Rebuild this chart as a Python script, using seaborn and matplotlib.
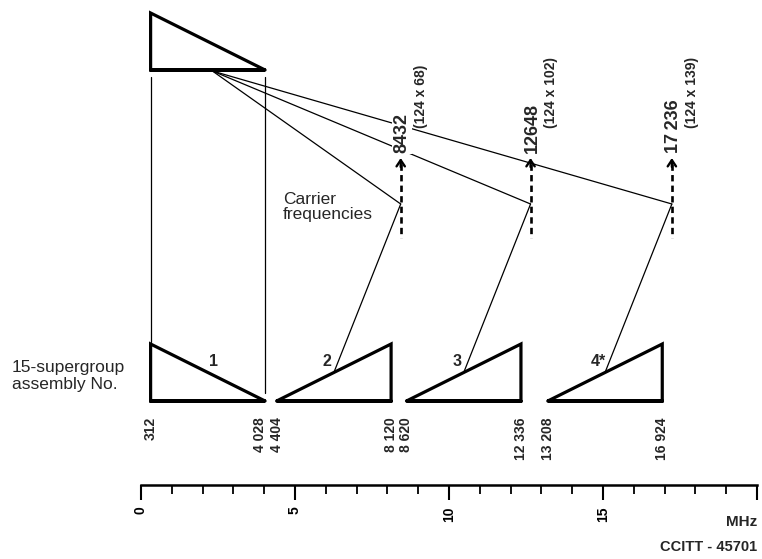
import numpy as np
import pandas as pd
import seaborn as sns
import matplotlib.pyplot as plt
from matplotlib.ticker import FixedLocator

# 15-supergroup assemblies, band edges in kHz
assembly_no = ["1", "2", "3", "4*"]
band_low = [312, 4404, 8620, 13208]
band_high = [4028, 8120, 12336, 16924]
erect = [True, False, False, False]

# basic assembly (top)
base_low, base_high = 312, 4028

# carrier frequencies (kHz) = multiples of 124 kHz
carriers = [8432, 12648, 17236]
carrier_labels = ["8432", "12648", "17\u2009236"]
carrier_factors = ["(124 x 68)", "(124 x 102)", "(124 x 139)"]

# frequency ruler (MHz)
ruler_major = [0, 5, 10, 15, 20]
ruler_major_labels = ["0", "5", "10", "15", ""]
ruler_minor = list(range(0, 21))

sns.set_style("white")
plt.rcParams['font.family'] = ['Liberation Sans', 'DejaVu Sans']

# layout: x in MHz mapped to pixels, y in pixels from the top
PX0 = 141
PX_PER_MHZ = 30.8
W, H = 762, 559
TOP_BASE = 70
BAND_BASE = 401
TRI_H = 57
GUIDE_TOP = 77
JUNC_Y = 204
DASH_BOTTOM = 238
ARROW_TIP = 158
FREQ_TOP = 417
RULER_Y = 485

def mhz(v):
    return np.asarray(v, dtype=float) / 1000.0

def px(n):
    return n / PX_PER_MHZ

fig = plt.figure(figsize=(W / 100, H / 100), dpi=100)
ax = fig.add_axes([0, 0, 1, 1])

# triangle outlines (path goes round once and repeats the first edge so every corner is joined)
rows = []
def add_tri(name, lo, hi, base, up_left):
    if up_left:
        pts = [(lo, base), (hi, base), (lo, base - TRI_H), (lo, base), (hi, base)]
    else:
        pts = [(hi, base), (lo, base), (hi, base - TRI_H), (hi, base), (lo, base)]
    for i, (x, y) in enumerate(pts):
        rows.append({"shape": name, "order": i, "x": x, "y": y})

add_tri("base", mhz(base_low), mhz(base_high), TOP_BASE, True)
for no, lo, hi, er in zip(assembly_no, mhz(band_low), mhz(band_high), erect):
    add_tri(no, lo, hi, BAND_BASE, er)
tri = pd.DataFrame(rows)

sns.lineplot(data=tri, x="x", y="y", units="shape", estimator=None, sort=False,
             color="black", linewidth=2.3, ax=ax, legend=False)
for ln in ax.lines:
    ln.set_solid_joinstyle("miter")

# thin connecting lines
segs = []
def add_seg(name, p0, p1):
    segs.append({"seg": name, "x": p0[0], "y": p0[1]})
    segs.append({"seg": name, "x": p1[0], "y": p1[1]})

add_seg("g0", (mhz(base_low), GUIDE_TOP), (mhz(base_low), BAND_BASE - TRI_H - 2))
add_seg("g1", (mhz(base_high), GUIDE_TOP), (mhz(base_high), BAND_BASE - 8))
origin = (mhz(base_low) + 0.54 * (mhz(base_high) - mhz(base_low)), TOP_BASE + 1)
for i, c in enumerate(mhz(carriers)):
    add_seg(f"f{i}", origin, (c, JUNC_Y))
    lo, hi = mhz(band_low[i + 1]), mhz(band_high[i + 1])
    add_seg(f"d{i}", (c, JUNC_Y), ((lo + hi) / 2, BAND_BASE - TRI_H / 2))
thin = pd.DataFrame(segs)
sns.lineplot(data=thin, x="x", y="y", units="seg", estimator=None, sort=False,
             color="black", linewidth=0.9, ax=ax, legend=False)

# dashed carrier lines with arrow heads
ax.vlines(mhz(carriers), ARROW_TIP + 6, DASH_BOTTOM, colors="black",
          linewidth=1.9, linestyles=(0, (2.4, 1.6)))
for c in mhz(carriers):
    ax.annotate("", xy=(c, ARROW_TIP), xytext=(c, ARROW_TIP + 9),
                arrowprops=dict(arrowstyle="->,head_length=0.45,head_width=0.3",
                                lw=1.7, color="black", shrinkA=0, shrinkB=0))

for c, lab, fac in zip(mhz(carriers), carrier_labels, carrier_factors):
    ax.text(c + px(1.5), ARROW_TIP - 5, lab, rotation=90, ha="center", va="bottom",
            fontsize=13, fontweight="bold", zorder=5,
            bbox=dict(facecolor="white", edgecolor="none", pad=1))
    ax.text(c + px(20), 128, fac, rotation=90, ha="center", va="bottom",
            fontsize=10, fontweight="bold", zorder=5)

ax.text(px(283 - PX0), 207, "Carrier\nfrequencies", ha="left", va="center",
        fontsize=12.5, linespacing=1.0)
ax.text(px(12 - PX0), 376, "15-supergroup\nassembly No.", ha="left", va="center",
        fontsize=12.5, linespacing=1.1)

# assembly numbers
for no, lo, hi, er in zip(assembly_no, mhz(band_low), mhz(band_high), erect):
    frac = 0.55 if er else 0.44
    ax.text(lo + frac * (hi - lo), 362, no, ha="center", va="center",
            fontsize=11.5, fontweight="bold")

# band edge frequencies
edges = sorted(band_low + band_high)
for k, e in enumerate(edges):
    nudge = 0.0
    if k + 1 < len(edges) and edges[k + 1] - e < 450:
        nudge = -px(5)
    ax.text(mhz(e) + nudge, FREQ_TOP, f"{e:,}".replace(",", " "), rotation=90,
            ha="center", va="top", fontsize=10, fontweight="bold")

ax.set_xlim(px(-PX0), px(W - PX0))
ax.set_ylim(H, 0)
ax.axis("off")

# frequency ruler
ax_r = fig.add_axes([0, (H - RULER_Y) / H, 1, 0.05])
ax_r.patch.set_alpha(0)
ax_r.set_xlim(px(-PX0), px(W - PX0))
ax_r.set_yticks([])
for s in ["top", "left", "right"]:
    ax_r.spines[s].set_visible(False)
ax_r.spines["bottom"].set_bounds(0, 20)
ax_r.spines["bottom"].set_linewidth(1.8)
ax_r.spines["bottom"].set_color("black")
ax_r.xaxis.set_major_locator(FixedLocator(ruler_major))
ax_r.xaxis.set_minor_locator(FixedLocator(ruler_minor))
ax_r.set_xticklabels(ruler_major_labels, rotation=90, fontsize=10, fontweight="bold")
ax_r.tick_params(axis="x", which="major", bottom=True, direction="out", length=10.5,
                 width=1.5, pad=5, colors="black")
ax_r.tick_params(axis="x", which="minor", bottom=True, direction="out", length=6.5,
                 width=1.3, colors="black")

ax.text(20, 522, "MHz", ha="right", va="center", fontsize=11, fontweight="bold")
ax.text(20, 547, "CCITT - 45701", ha="right", va="center", fontsize=10.5,
        fontweight="bold")

fig.savefig("out.png", dpi=100)
